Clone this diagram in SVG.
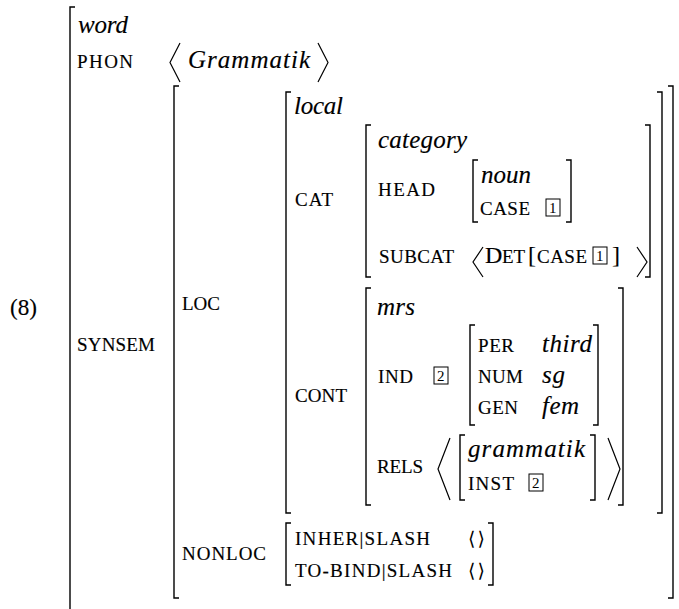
<svg xmlns="http://www.w3.org/2000/svg" width="679" height="609" viewBox="0 0 679 609">
<style>
text{font-family:"Liberation Serif","Liberation Sans",sans-serif;fill:#000;stroke:#000;stroke-width:0.15}
.it{font-style:italic;font-size:25px}
.rm{font-size:24px}
.sc{font-size:19px}
.num{font-size:15px;stroke-width:0}
.br{fill:none;stroke:#000;stroke-width:1.4}
.ang{fill:none;stroke:#000;stroke-width:1.2}
.box{fill:none;stroke:#000;stroke-width:1}
.el{font-family:"DejaVu Sans",sans-serif;font-size:19px;stroke-width:0}
</style>
<rect width="679" height="609" fill="#fff"/>
<text id="exnum" class="rm" x="10" y="315" textLength="27" lengthAdjust="spacingAndGlyphs">(8)</text>

<g id="word">
<path class="br" d="M75 7H70V625"/>
<text class="it" x="78" y="33" textLength="50">word</text>
<text class="sc" x="77" y="68" textLength="56">PHON</text>
<path class="ang" d="M180 43L170 62.5L180 82"/>
<text class="it" x="188" y="68" textLength="122">Grammatik</text>
<path class="ang" d="M318 43L328 62.5L318 82"/>
<text class="sc" x="77" y="351" textLength="78">SYNSEM</text>
</g>

<g id="synsem">
<path class="br" d="M179 86H174V598H179"/>
<path class="br" d="M668 86H673V598H668"/>
<text class="sc" x="182" y="310" textLength="38">LOC</text>
<text class="sc" x="182" y="560" textLength="84">NONLOC</text>
</g>

<g id="local">
<path class="br" d="M291 92H286V513H291"/>
<path class="br" d="M657 92H662V513H657"/>
<text class="it" x="294" y="114" textLength="49">local</text>
<text class="sc" x="295" y="206" textLength="38">CAT</text>
<text class="sc" x="295" y="402" textLength="52">CONT</text>
</g>

<g id="category">
<path class="br" d="M371 125H366V277H371"/>
<path class="br" d="M645 125H650V277H645"/>
<text class="it" x="378" y="148" textLength="89">category</text>
<text class="sc" x="378" y="196" textLength="57">HEAD</text>
<text class="sc" x="379" y="263" textLength="75">SUBCAT</text>
<path class="ang" d="M483 247L473 262L483 277"/>
<text class="rm" x="485" y="263">D</text>
<text class="sc" x="502" y="263" textLength="23">ET</text>
<text class="rm" x="528" y="263">[</text>
<text class="sc" x="537" y="263" textLength="50">CASE</text>
<rect class="box" x="593" y="247" width="14" height="17"/>
<text class="num" x="596" y="261">1</text>
<text class="rm" x="612" y="263">]</text>
<path class="ang" d="M637 247L647 262L637 277"/>
</g>

<g id="noun">
<path class="br" d="M478 160H473V222H478"/>
<path class="br" d="M566 160H571V222H566"/>
<text class="it" x="481" y="183" textLength="50">noun</text>
<text class="sc" x="480" y="215" textLength="50">CASE</text>
<rect class="box" x="546" y="199" width="14" height="17"/>
<text class="num" x="549" y="213">1</text>
</g>

<g id="mrs">
<path class="br" d="M371 288H366V505H371"/>
<path class="br" d="M618 288H623V505H618"/>
<text class="it" x="377" y="315" textLength="38">mrs</text>
<text class="sc" x="378" y="383" textLength="35">IND</text>
<rect class="box" x="434" y="367" width="14" height="17"/>
<text class="num" x="437" y="381">2</text>
<text class="sc" x="377" y="473" textLength="46">RELS</text>
<path class="ang" d="M450 438L438 469L450 500"/>
<path class="ang" d="M608 438L620 469L608 500"/>
</g>

<g id="index">
<path class="br" d="M475 325H470V425H475"/>
<path class="br" d="M593 325H598V425H593"/>
<text class="sc" x="478" y="352" textLength="36">PER</text>
<text class="it" x="542" y="352" textLength="50">third</text>
<text class="sc" x="478" y="383" textLength="45">NUM</text>
<text class="it" x="542" y="383" textLength="23">sg</text>
<text class="sc" x="478" y="414" textLength="40">GEN</text>
<text class="it" x="542" y="414" textLength="37">fem</text>
</g>

<g id="grammatik">
<path class="br" d="M465 435H460V500H465"/>
<path class="br" d="M590 435H595V500H590"/>
<text class="it" x="468" y="457" textLength="117">grammatik</text>
<text class="sc" x="468" y="490" textLength="46">INST</text>
<rect class="box" x="529" y="474" width="14" height="17"/>
<text class="num" x="532" y="488">2</text>
</g>

<g id="nonloc">
<path class="br" d="M291 523H286V585H291"/>
<path class="br" d="M488 523H493V585H488"/>
<text class="sc" x="295" y="545" textLength="135">INHER|SLASH</text>
<text class="sc" x="295" y="577" textLength="157">TO-BIND|SLASH</text>
<text class="el" x="468" y="545" textLength="17">⟨⟩</text>
<text class="el" x="468" y="577" textLength="17">⟨⟩</text>
</g>
<g id="connectors"></g>
</svg>
